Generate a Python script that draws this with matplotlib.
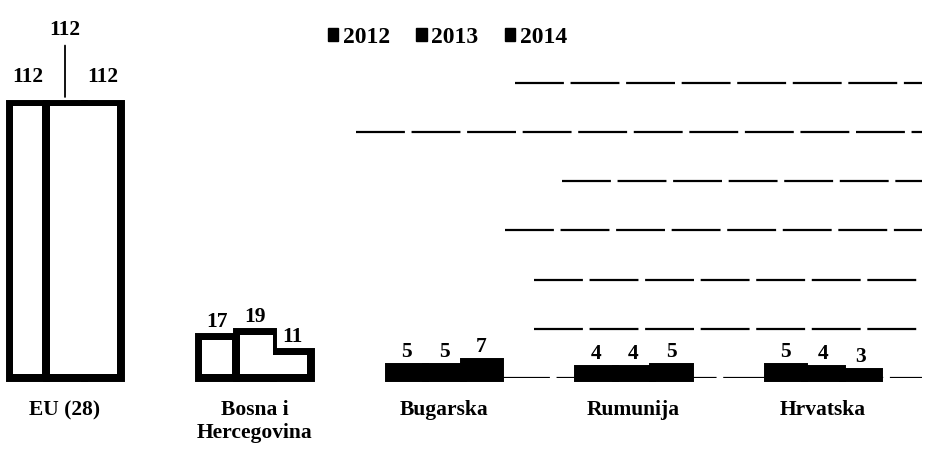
import numpy as np
import matplotlib.pyplot as plt
from matplotlib.patches import Patch

plt.rcParams['font.family'] = ['Liberation Serif', 'DejaVu Serif']
plt.rcParams['font.weight'] = 'bold'

countries = ['EU (28)', 'Bosna i\nHercegovina', 'Bugarska', 'Rumunija', 'Hrvatska']
years = ['2012', '2013', '2014']
v2012 = [112, 17, 5, 4, 5]
v2013 = [112, 19, 5, 4, 4]
v2014 = [112, 11, 7, 5, 3]
values = [v2012, v2013, v2014]

fig = plt.figure(figsize=(9.36, 4.55), dpi=100)
ax = fig.add_axes([0, 0.169, 1, 0.676])

x = np.arange(len(countries))
w = 0.198
dx = 0.021   # inner white margin, x units
dy = 1.6     # inner white margin, y units

# faint broken gridlines on the right part of the plot
grid_y = [120, 100, 80, 60, 40, 20, 0]
grid_start = [0.55, 0.38, 0.60, 0.54, 0.57, 0.57, 0.535]
for gy, gs in zip(grid_y, grid_start):
    ax.hlines(gy, gs, 0.985, transform=ax.get_yaxis_transform(),
              color='black', lw=1.6, linestyle=(0, (22, 3)), zorder=0)

# solid black bars with a thick outline
for k in range(3):
    ax.bar(x + (k - 1) * w, values[k], width=w, color='black',
           edgecolor='black', lw=5, clip_on=False, zorder=2)

# white interiors; 2013 and 2014 share one open area
for k in range(3):
    h = np.array(values[k], dtype=float)
    inner = np.where(h - 2 * dy > 4, h - 2 * dy, 0)
    left = x + (k - 1.5) * w
    if k == 0:
        lo, hi = left + dx, left + w - dx
    elif k == 1:
        lo, hi = left + dx, left + w
    else:
        lo, hi = left, left + w - dx
    ax.bar(lo, inner, width=hi - lo, bottom=dy, align='edge',
           color='white', lw=0, zorder=3)

# value labels
for k in range(3):
    for i in range(len(countries)):
        v = values[k][i]
        xi = x[i] + (k - 1) * w
        if i == 0 and k == 1:
            ax.annotate(str(v), (xi, v), xytext=(0, 45), textcoords='offset points',
                        ha='center', va='bottom', fontsize=15.5,
                        arrowprops=dict(arrowstyle='-', color='black', lw=1.3,
                                        shrinkA=2, shrinkB=4), zorder=4)
        elif i == 0:
            ax.annotate(str(v), (xi, v), xytext=(0, 11), textcoords='offset points',
                        ha='center', va='bottom', fontsize=15.5, zorder=4)
        else:
            ax.annotate(str(v), (xi, v), xytext=(0, 3), textcoords='offset points',
                        ha='center', va='bottom', fontsize=15.5, zorder=4)

ax.set_xlim(-0.343, 4.596)
ax.set_ylim(0, 125)
ax.set_xticks(x)
ax.set_xticklabels(countries, fontsize=15.5, fontweight='bold')
ax.tick_params(axis='x', length=0, pad=16)
ax.set_yticks([])
for s in ax.spines.values():
    s.set_visible(False)

handles = [Patch(facecolor='black', edgecolor='black') for _ in years]
fig.legend(handles, years, loc='center', bbox_to_anchor=(0.478, 0.918), ncol=3,
           frameon=False, handlelength=0.45, handleheight=0.45, handletextpad=0.2,
           columnspacing=1.1, prop={'size': 17, 'weight': 'bold'})

fig.savefig('out.png', dpi=100)
